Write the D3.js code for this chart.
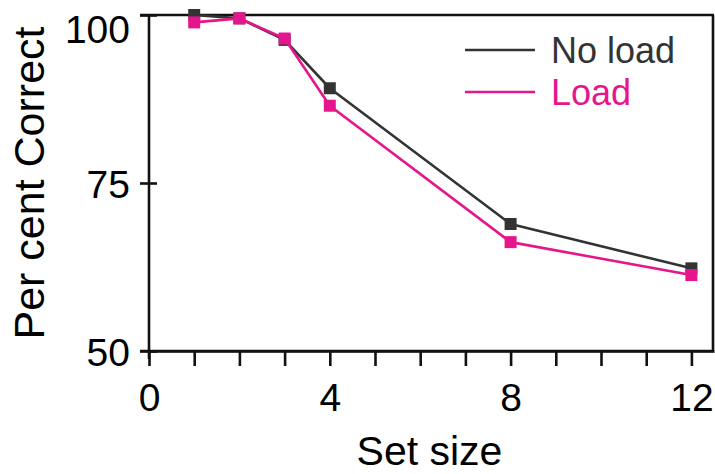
<!DOCTYPE html>
<html>
<head>
<meta charset="utf-8">
<script src="https://cdn.jsdelivr.net/npm/d3@7"></script>
<style>
  html, body { margin: 0; padding: 0; background: #fff; }
  svg { display: block; font-family: "Liberation Sans", Arial, Helvetica, sans-serif; }
</style>
</head>
<body>
<svg id="chart" width="715" height="474"></svg>
<script>
// Set sizes tested and percent correct for each condition
const setSizes = [1, 2, 3, 4, 8, 12];
const noLoad = [100, 99.5, 96.3, 89.1, 68.9, 62.3];
const load = [98.9, 99.5, 96.5, 86.5, 66.2, 61.3];

const xTickValues = d3.range(0, 13);
const xTickLabels = [0, 4, 8, 12];
const yTickValues = [50, 75, 100];

const seriesNames = ["No load", "Load"];
const seriesColors = ["#333333", "#e5168b"];

const svg = d3.select("#chart");

const x = d3.scaleLinear().domain([0, 12.5]).range([149, 714]);
const y = d3.scaleLinear().domain([50, 100]).range([351, 15]);

const axisColor = "#111";
const axisWidth = 2.6;

// Frame: top and right edges, plus the little overhang left of the origin
const frame = svg.append("g").attr("stroke", axisColor).attr("stroke-width", axisWidth).attr("fill", "none");
frame.append("line").attr("x1", x(0) - 9).attr("x2", x.range()[1]).attr("y1", y(100)).attr("y2", y(100));
frame.append("line").attr("x1", x.range()[1] - 1).attr("x2", x.range()[1] - 1).attr("y1", y(100)).attr("y2", y(50));
frame.append("line").attr("x1", x(0) - 9).attr("x2", x.range()[1]).attr("y1", y(50)).attr("y2", y(50));

// X axis: ticks at every integer, labels every 4
const xAxis = d3.axisBottom(x)
  .tickValues(xTickValues)
  .tickSizeInner(15)
  .tickSizeOuter(0)
  .tickFormat(d => xTickLabels.includes(d) ? d : "");
const gx = svg.append("g").attr("transform", `translate(0,${y(50)})`).call(xAxis);
gx.select(".domain").attr("stroke", axisColor).attr("stroke-width", axisWidth);
gx.selectAll(".tick line").attr("stroke", axisColor).attr("stroke-width", axisWidth);
gx.selectAll(".tick text")
  .attr("fill", "#000")
  .attr("font-size", 39)
  .attr("y", 60)
  .attr("dy", 0);

// Y axis: ticks crossing the axis line
const yAxis = d3.axisLeft(y)
  .tickValues(yTickValues)
  .tickSizeInner(8)
  .tickSizeOuter(0);
const gy = svg.append("g").attr("transform", `translate(${x(0)},0)`).call(yAxis);
gy.select(".domain").attr("stroke", axisColor).attr("stroke-width", axisWidth)
  .attr("d", `M0,${y(100)}V${y(50) + 8}`);
gy.selectAll(".tick line").attr("stroke", axisColor).attr("stroke-width", axisWidth)
  .attr("x1", -9).attr("x2", 8);
gy.selectAll(".tick text")
  .attr("fill", "#000")
  .attr("font-size", 39)
  .attr("x", -19)
  .attr("dy", d => d === 100 ? "0.7em" : "0.36em");

// Axis titles
svg.append("text")
  .attr("x", (x(0) + x.range()[1]) / 2 - 2)
  .attr("y", 465)
  .attr("text-anchor", "middle")
  .attr("font-size", 41)
  .attr("fill", "#000")
  .text("Set size");

svg.append("text")
  .attr("transform", `translate(44,${(y(100) + y(50)) / 2}) rotate(-90)`)
  .attr("text-anchor", "middle")
  .attr("font-size", 43)
  .attr("fill", "#000")
  .text("Per cent Correct");

// Series lines and square markers
const series = [noLoad, load];
const line = d3.line().x((d, i) => x(setSizes[i])).y(d => y(d));
const markerSize = 12;

series.forEach((vals, si) => {
  const g = svg.append("g");
  g.append("path")
    .attr("d", line(vals))
    .attr("fill", "none")
    .attr("stroke", seriesColors[si])
    .attr("stroke-width", 2.6)
    .attr("stroke-linejoin", "round");
  g.selectAll("rect")
    .data(vals)
    .join("rect")
    .attr("x", (d, i) => x(setSizes[i]) - markerSize / 2)
    .attr("y", d => y(d) - markerSize / 2)
    .attr("width", markerSize)
    .attr("height", markerSize)
    .attr("fill", seriesColors[si]);
});

// Legend
const legend = svg.append("g");
seriesNames.forEach((name, i) => {
  const ly = 50 + i * 42;
  legend.append("line")
    .attr("x1", 465).attr("x2", 535)
    .attr("y1", ly).attr("y2", ly)
    .attr("stroke", seriesColors[i])
    .attr("stroke-width", 2.6);
  legend.append("text")
    .attr("x", 551)
    .attr("y", ly)
    .attr("dy", "0.35em")
    .attr("font-size", 36)
    .attr("fill", seriesColors[i])
    .text(name);
});
</script>
</body>
</html>
